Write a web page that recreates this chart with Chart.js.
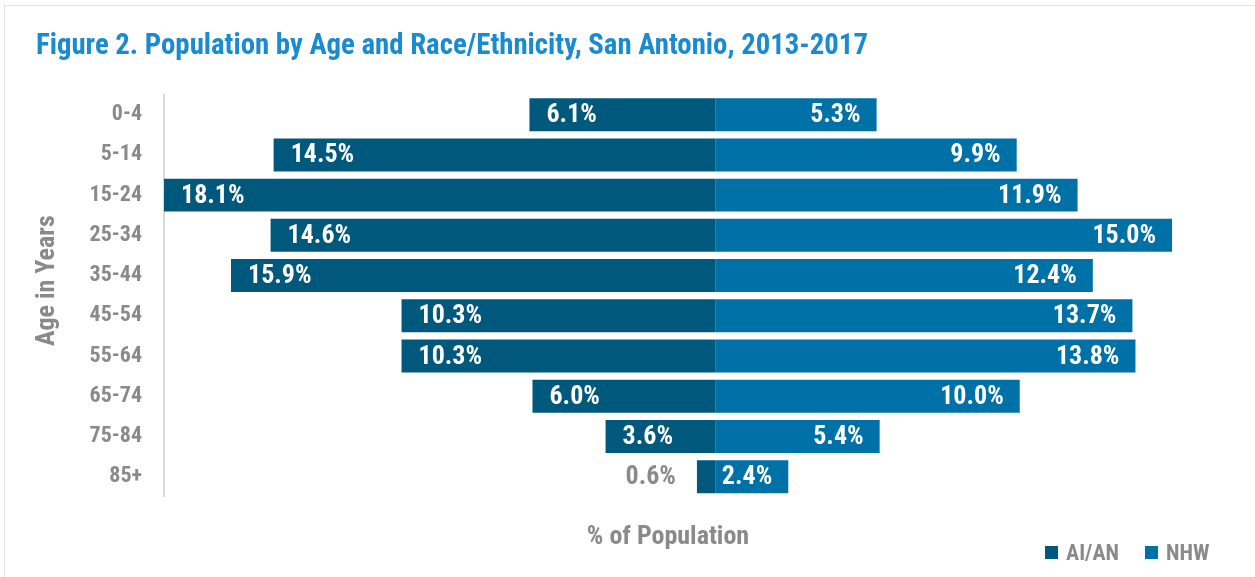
<!DOCTYPE html>
<html>
<head>
<meta charset="utf-8">
<script src="https://cdn.jsdelivr.net/npm/chart.js@4.4.1/dist/chart.umd.min.js"></script>
<style>
  body { margin: 0; background: #fff; }
  #wrap { position: relative; width: 1255px; height: 577px; }
  #frame { position: absolute; left: 4px; top: 5px; width: 1260px; height: 580px; border: 1px solid #e3e3e3; box-sizing: border-box; pointer-events: none; }
  #legend { position: absolute; left: 1045px; top: 540px; display: flex; align-items: center;
            font: bold 22px 'Liberation Sans Narrow', 'Roboto Condensed', 'Liberation Sans', sans-serif; color: #8a8a8a; }
  #legend span.box { display: inline-block; width: 13px; height: 13px; margin-right: 8px; }
  #legend span.item { display: flex; align-items: center; margin-right: 26px; }
</style>
</head>
<body>
<div id="wrap">
  <canvas id="grafico"></canvas>
  <div id="frame"></div>
  <div id="legend"></div>
</div>
<script>
const edades = ['0-4', '5-14', '15-24', '25-34', '35-44', '45-54', '55-64', '65-74', '75-84', '85+'];
const aian = [6.1, 14.5, 18.1, 14.6, 15.9, 10.3, 10.3, 6.0, 3.6, 0.6];
const nhw = [5.3, 9.9, 11.9, 15.0, 12.4, 13.7, 13.8, 10.0, 5.4, 2.4];
const series = ['AI/AN', 'NHW'];
const colores = ['#00587c', '#0071a6'];

const FUENTE = "'Liberation Sans Narrow', 'Roboto Condensed', 'Liberation Sans', sans-serif";
const GRIS = '#8a8a8a';

const canvas = document.getElementById('grafico');
canvas.width = 1255;
canvas.height = 577;
const ctx = canvas.getContext('2d');

// etiquetas dentro de las barras
const etiquetas = {
    id: 'etiquetas',
    afterDatasetsDraw(chart) {
        const c = chart.ctx;
        c.save();
        c.font = 'bold 26px ' + FUENTE;
        c.textBaseline = 'middle';
        chart.data.datasets.forEach((ds, i) => {
            chart.getDatasetMeta(i).data.forEach((bar, j) => {
                const v = Math.abs(ds.data[j]);
                const txt = v.toFixed(1) + '%';
                const w = c.measureText(txt).width;
                const ancho = Math.abs(bar.x - bar.base);
                if (i === 0) {
                    if (ancho < w + 24) {
                        c.fillStyle = GRIS;
                        c.textAlign = 'right';
                        c.fillText(txt, bar.x - 21, bar.y + 1);
                    } else {
                        c.fillStyle = '#fff';
                        c.textAlign = 'left';
                        c.fillText(txt, bar.x + 17, bar.y + 1);
                    }
                } else {
                    c.fillStyle = '#fff';
                    c.textAlign = 'right';
                    c.fillText(txt, bar.x - 16, bar.y + 1);
                }
            });
        });
        c.restore();
    }
};

new Chart(ctx, {
    type: 'bar',
    data: {
        labels: edades,
        datasets: [
            { label: series[0], data: aian.map(v => -v), backgroundColor: colores[0] },
            { label: series[1], data: nhw, backgroundColor: colores[1] }
        ]
    },
    options: {
        indexAxis: 'y',
        responsive: false,
        animation: false,
        layout: { padding: { left: 36, right: 83, top: 30, bottom: 24 } },
        datasets: { bar: { barPercentage: 0.82, categoryPercentage: 1 } },
        scales: {
            x: {
                stacked: true,
                min: -18.1,
                max: 15.0,
                grid: { display: false },
                border: { display: false },
                ticks: { display: false },
                title: {
                    display: true,
                    text: '% of Population',
                    color: GRIS,
                    font: { family: FUENTE, size: 26, weight: 'bold' },
                    padding: { top: 17, bottom: 0 }
                }
            },
            y: {
                stacked: true,
                grid: { display: false, drawTicks: false },
                border: { display: true, color: '#d9d9d9', width: 2 },
                ticks: { color: GRIS, font: { family: FUENTE, size: 22, weight: 'bold' }, padding: 22 },
                title: {
                    display: true,
                    text: '     Age in Years',
                    color: GRIS,
                    font: { family: FUENTE, size: 26, weight: 'bold' },
                    padding: { top: -4, bottom: 0 }
                },
                afterFit: (scale) => { scale.width = 128; }
            }
        },
        plugins: {
            legend: { display: false },
            tooltip: { enabled: false },
            title: {
                display: true,
                text: 'Figure 2. Population by Age and Race/Ethnicity, San Antonio, 2013-2017',
                align: 'start',
                color: '#1a8bd0',
                font: { family: FUENTE, size: 28.8, weight: 'bold' },
                padding: { top: 0, bottom: 30 }
            }
        }
    },
    plugins: [etiquetas]
});

// leyenda
const leyenda = document.getElementById('legend');
series.forEach((s, i) => {
    leyenda.innerHTML += `<span class="item"><span class="box" style="background:${colores[i]}"></span>${s}</span>`;
});
</script>
</body>
</html>
